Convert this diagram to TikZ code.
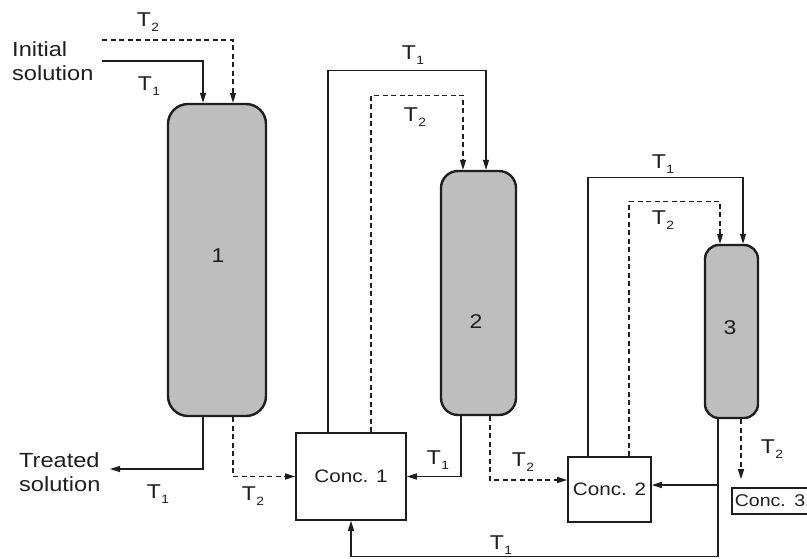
\documentclass[tikz,border=0pt]{standalone}
\usepackage{fontspec}
\setmainfont[FakeStretch=1.15]{Liberation Sans}
\usetikzlibrary{arrows.meta,calc}

% T with a lowered small index
\newcommand\Tn[1]{T\kern0.03em\raisebox{-5pt}{\fontsize{12}{12}\selectfont #1}}

\definecolor{colfill}{HTML}{BEBEBE}
\definecolor{ink}{HTML}{1E1E1E}

\tikzset{
  column/.style={draw=ink, line width=2.4pt, fill=colfill, inner sep=0pt},
  numlab/.style={text=ink, font=\fontsize{20}{20}\selectfont, inner sep=0pt},
  concbox/.style={draw=ink, line width=1.6pt, fill=white, inner sep=0pt,
    font=\fontsize{18}{18}\selectfont, text=ink},
  flow/.style={draw=ink, line width=1.3pt, -{Triangle[length=10pt,width=6pt]}},
  flowd/.style={flow, dash pattern=on 5pt off 3.5pt},
  tlab/.style={text=ink, font=\fontsize{20}{20}\selectfont, inner sep=0pt},
  txt/.style={text=ink, font=\fontsize{20.5}{24}\selectfont, inner sep=0pt,
    align=left, anchor=west},
}

\begin{document}
\begin{tikzpicture}[x=1pt, y=-1pt]
  \useasboundingbox (0,0) rectangle (807,558);
  \clip (0,0) rectangle (807,558);
  \fill[white] (0,0) rectangle (807,558);

  % columns
  \node[column, minimum width=98pt, minimum height=312pt, rounded corners=20pt] (col1) at (217,260) {};
  \node[column, minimum width=75pt, minimum height=244pt, rounded corners=17pt] (col2) at (478.5,293) {};
  \node[column, minimum width=53pt, minimum height=173pt, rounded corners=14pt] (col3) at (731.5,331.5) {};
  \node[numlab] (n1) at (218,256) {1};
  \node[numlab] (n2) at (476,322) {2};
  \node[numlab] (n3) at (730,328) {3};

  % concentrate tanks
  \node[concbox, minimum width=110pt, minimum height=87pt] (conc1) at (351,476.5) {Conc. 1};
  \node[concbox, minimum width=83pt, minimum height=65pt] (conc2) at (609.5,489.5) {Conc. 2};
  \node[concbox, anchor=west, minimum width=100pt, minimum height=26pt,
        text width=94pt, align=left, inner xsep=3pt,
        font=\fontsize{17}{17}\selectfont] (conc3) at (731,501) {Conc. 3};

  % feed and product texts
  \node[txt] (feed) at (12,61) {Initial\\solution};
  \node[txt] (prod) at (19,472) {Treated\\solution};

  % free ends
  \coordinate (feedT1) at (102,61);
  \coordinate (feedT2) at (102,40);
  \coordinate (prodEnd) at (110,469);

  % feed into column 1
  \draw[flow] (feedT1) -| ([xshift=-14pt]col1.north);
  \draw[flowd] (feedT2) -| ([xshift=16pt]col1.north);

  % column 1 outlets
  \draw[flow] ([xshift=-14pt]col1.south) |- (prodEnd);
  \draw[flowd] ([xshift=16pt]col1.south) |- (conc1.west);

  % concentrate 1 feeds column 2
  \draw[flow] ([xshift=-23pt]conc1.north) -- ++(0,-362) -| ([xshift=7.5pt]col2.north);
  \draw[flowd] ([xshift=20pt]conc1.north) -- ++(0,-337) -| ([xshift=-15.5pt]col2.north);

  % column 2 outlets
  \draw[flow] ([xshift=-17.5pt]col2.south) |- (conc1.east);
  \draw[flowd] ([xshift=11.5pt]col2.south) |- ([yshift=9.5pt]conc2.west);

  % concentrate 2 feeds column 3
  \draw[flow] ([xshift=-21.5pt]conc2.north) -- ++(0,-279) -| ([xshift=11.5pt]col3.north);
  \draw[flowd] ([xshift=19.5pt]conc2.north) -- ++(0,-255) -| ([xshift=-11.5pt]col3.north);

  % column 3 outlets
  \coordinate (c3out) at ([xshift=-13.5pt]col3.south);
  \coordinate (c2in) at ([yshift=4.5pt]conc2.east);
  \coordinate (bottomRun) at (718,556.5);
  \draw[flow] (c3out) |- (bottomRun) -| (conc1.south);
  \draw[flow] (c3out |- c2in) -- (c2in);
  \coordinate (c3d) at ([xshift=9.5pt]col3.south);
  \draw[flowd, shorten >=8pt] (c3d) -- (c3d |- conc3.north);

  % stream labels
  \node[tlab] (l1) at (148,22) {\Tn{2}};
  \node[tlab] (l2) at (149,86) {\Tn{1}};
  \node[tlab] (l3) at (158,494) {\Tn{1}};
  \node[tlab] (l4) at (253,496) {\Tn{2}};
  \node[tlab] (l5) at (413,55) {\Tn{1}};
  \node[tlab] (l6) at (415,117) {\Tn{2}};
  \node[tlab] (l7) at (438,460) {\Tn{1}};
  \node[tlab] (l8) at (523,462) {\Tn{2}};
  \node[tlab] (l9) at (663,164) {\Tn{1}};
  \node[tlab] (l10) at (663,220) {\Tn{2}};
  \node[tlab] (l11) at (772,449) {\Tn{2}};
  \node[tlab] (l12) at (501,545) {\Tn{1}};
\end{tikzpicture}
\end{document}
